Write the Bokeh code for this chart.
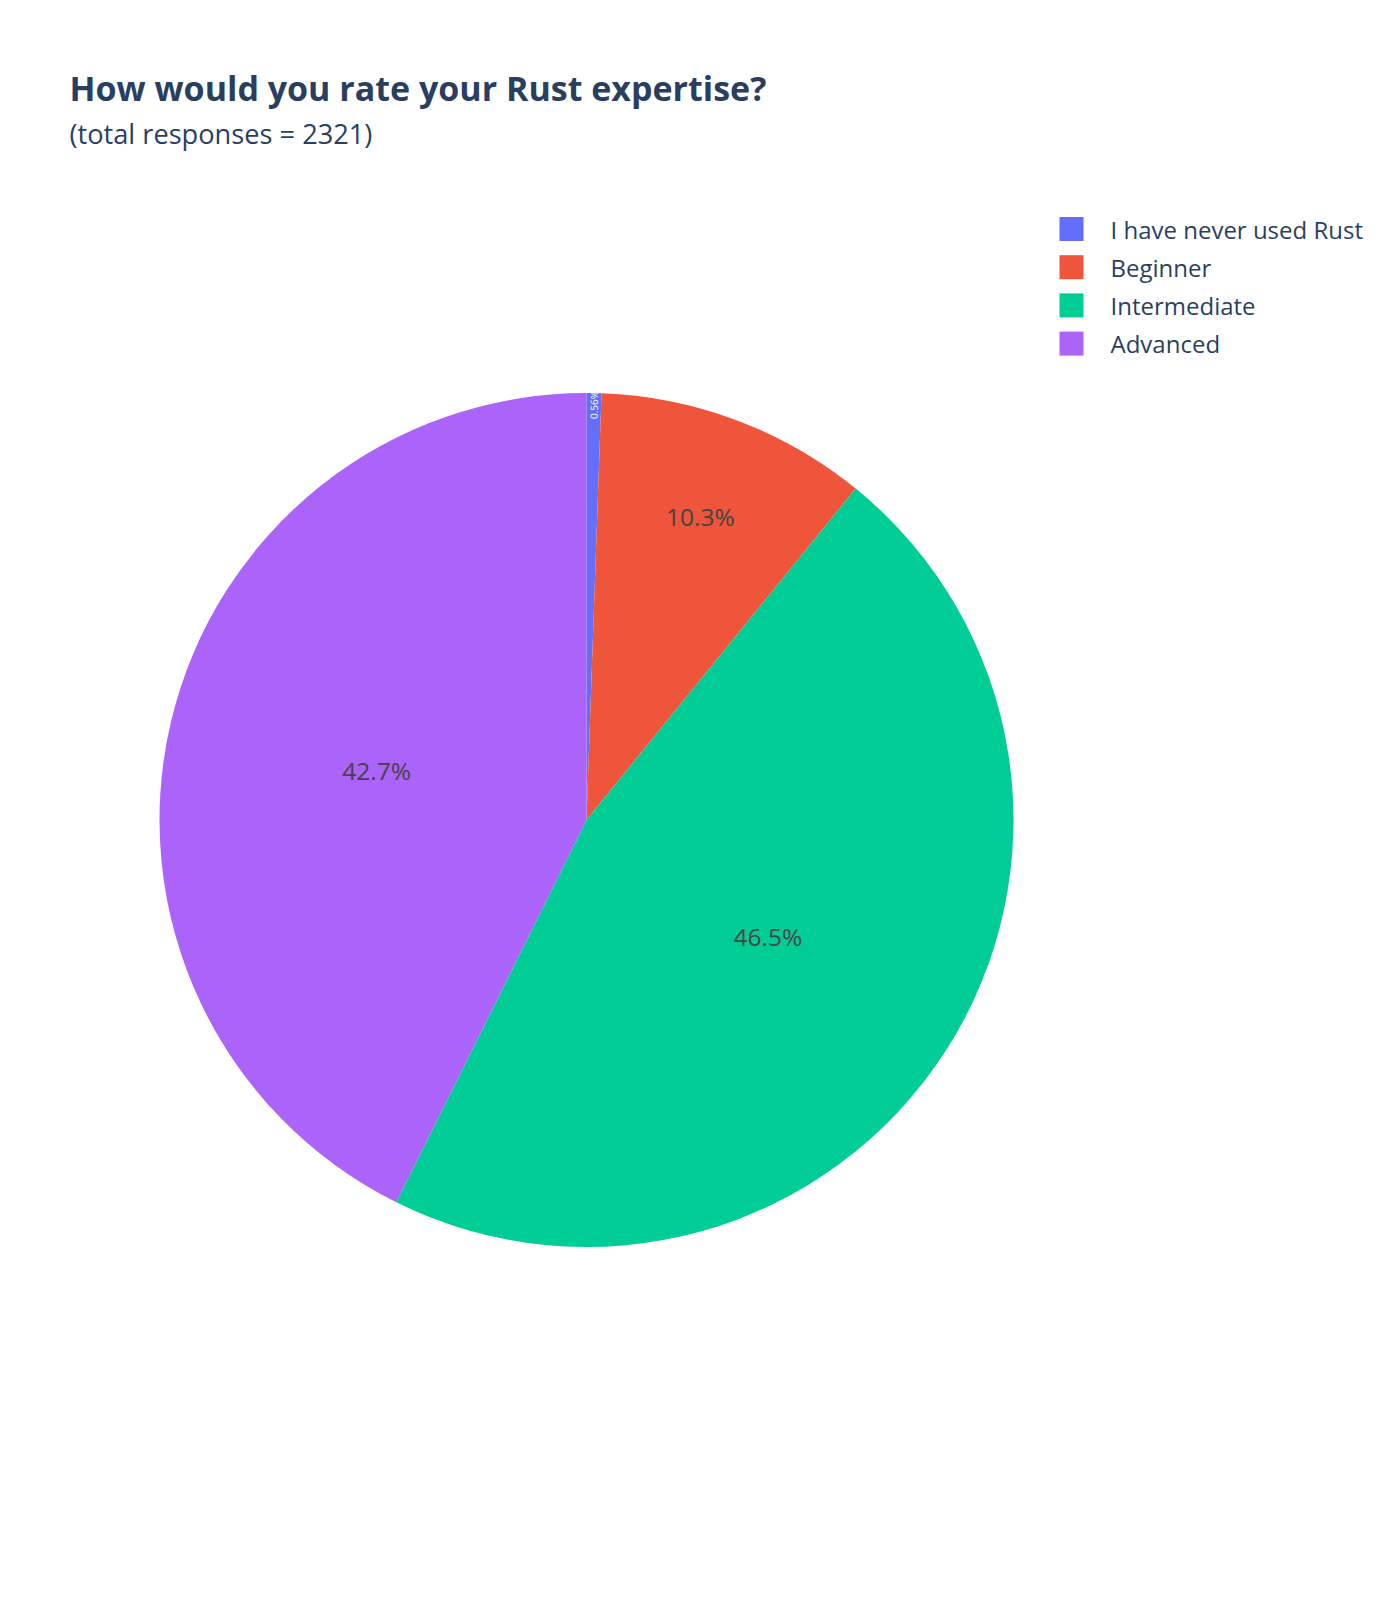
import math
from bokeh.plotting import figure
from bokeh.models import Range1d, ColumnDataSource
from bokeh.core.properties import value
from bokeh.embed import file_html
from bokeh.resources import INLINE

# ---- data ----
categories = ["I have never used Rust", "Beginner", "Intermediate", "Advanced"]
counts = [13, 239, 1079, 990]
colors = ["#636efa", "#EF553B", "#00cc96", "#ab63fa"]
title_text = "How would you rate your Rust expertise?"
subtitle_text = "(total responses = 2321)"

# ---- layout ----
W, H = 1384, 1584
CX, CY, R = 586, 764.5, 427
FONT = "Open Sans"
TEXT_COLOR = "#2a3f5f"

p = figure(width=W, height=H, x_range=Range1d(0, W), y_range=Range1d(0, H),
           output_backend="svg", toolbar_location=None, min_border=0,
           background_fill_color="white", border_fill_color="white")
p.axis.visible = False
p.grid.visible = False
p.outline_line_color = None

total = sum(counts)
fracs = [c / total for c in counts]
starts, ends, mids = [], [], []
cum = 0.0
for f in fracs:
    a0 = math.pi / 2 - cum * 2 * math.pi
    a1 = math.pi / 2 - (cum + f) * 2 * math.pi
    starts.append(a0)
    ends.append(a1)
    mids.append((a0 + a1) / 2)
    cum += f

src = ColumnDataSource(dict(start=starts, end=ends, color=colors))
p.wedge(x=CX, y=CY, radius=R, start_angle="start", end_angle="end",
        direction="clock", fill_color="color", line_color=None, source=src)

# labels
lx, ly, ltxt, lang, lcol, lsize = [], [], [], [], [], []
for f, m in zip(fracs, mids):
    pct = f * 100
    txt = f"{pct:.3g}%"
    if f < 0.02:
        rf, ang, col, size = 0.972, m, "white", "10px"
    elif f < 0.25:
        rf, ang, col, size = 0.76, 0, "#444444", "24.5px"
    else:
        rf, ang, col, size = 0.505, 0, "#444444", "24.5px"
    lx.append(CX + rf * R * math.cos(m))
    ly.append(CY + rf * R * math.sin(m))
    ltxt.append(txt)
    lang.append(ang)
    lcol.append(col)
    lsize.append(size)

lsrc = ColumnDataSource(dict(x=lx, y=ly, text=ltxt, angle=lang, color=lcol, size=lsize))
p.text(x="x", y="y", text="text", angle="angle", text_color="color",
       text_font_size="size", text_font=value(FONT), text_align="center",
       text_baseline="middle", source=lsrc)

# title
p.text(x=[69], y=[1497], text=[title_text], text_font=value(FONT),
       text_font_style="bold", text_font_size="34px", text_color=TEXT_COLOR,
       text_align="left", text_baseline="middle")
p.text(x=[69], y=[1451], text=[subtitle_text], text_font=value(FONT),
       text_font_size="27.2px", text_color=TEXT_COLOR,
       text_align="left", text_baseline="middle")

# legend
row0, step = 1355.5, 38.2
ys = [row0 - i * step for i in range(len(categories))]
p.rect(x=[1071] * len(categories), y=ys, width=24, height=24,
       fill_color=colors, line_color=None)
p.text(x=[1110] * len(categories), y=ys, text=categories, text_font=value(FONT),
       text_font_size="24px", text_color=TEXT_COLOR, text_align="left",
       text_baseline="middle")

open("out.html", "w").write(file_html(p, INLINE))
